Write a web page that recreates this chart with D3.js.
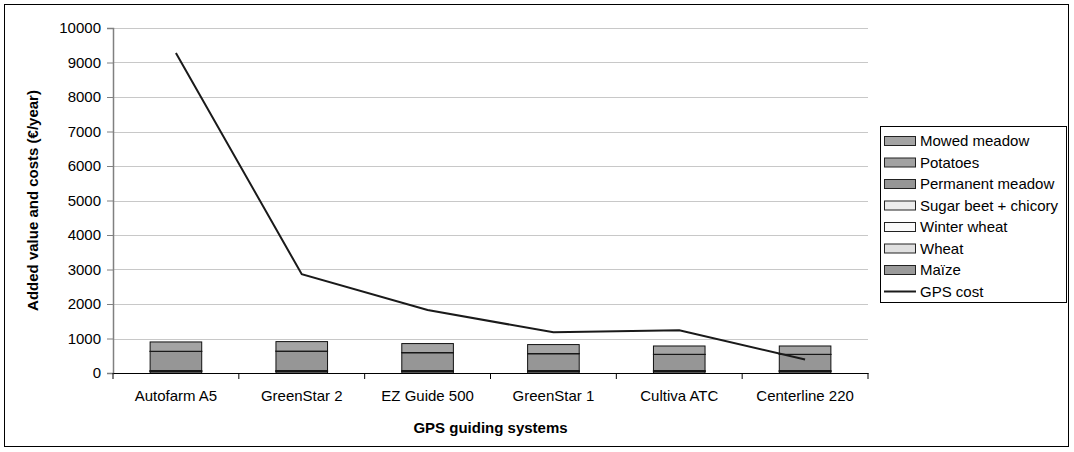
<!DOCTYPE html>
<html>
<head>
<meta charset="utf-8">
<script src="https://cdn.jsdelivr.net/npm/d3@7"></script>
<style>
  body { margin: 0; background: #fff; }
  text { font-family: "Liberation Sans", Arial, sans-serif; }
</style>
</head>
<body>
<svg id="chart" width="1074" height="452"></svg>
<script>
// categories and values
const systems = ["Autofarm A5", "GreenStar 2", "EZ Guide 500", "GreenStar 1", "Cultiva ATC", "Centerline 220"];
const maize = [45, 45, 45, 45, 45, 45];
const wheat = [8, 8, 8, 8, 8, 8];
const winterWheat = [5, 5, 5, 5, 5, 5];
const sugarBeet = [12, 12, 12, 12, 12, 12];
const permanentMeadow = [555, 560, 517, 488, 467, 467];
const potatoes = [5, 5, 5, 5, 5, 5];
const mowedMeadow = [270, 275, 261, 261, 241, 241];
const gpsCost = [9275, 2863, 1825, 1180, 1240, 390];
const yTicks = [0, 1000, 2000, 3000, 4000, 5000, 6000, 7000, 8000, 9000, 10000];

// stacking order bottom -> top
const series = [
  { name: "Maïze", values: maize, color: "#9a9a9a" },
  { name: "Wheat", values: wheat, color: "#e0e0e0" },
  { name: "Winter wheat", values: winterWheat, color: "#fafafa" },
  { name: "Sugar beet + chicory", values: sugarBeet, color: "#ececec" },
  { name: "Permanent meadow", values: permanentMeadow, color: "#969696" },
  { name: "Potatoes", values: potatoes, color: "#a2a2a2" },
  { name: "Mowed meadow", values: mowedMeadow, color: "#a4a4a4" }
];

const svg = d3.select("#chart");
const margin = { top: 28, right: 206, bottom: 79, left: 113 };
const width = 1074 - margin.left - margin.right;
const height = 452 - margin.top - margin.bottom;

// outer frame
svg.append("rect")
  .attr("x", 4.5).attr("y", 4.5)
  .attr("width", 1064).attr("height", 442)
  .attr("fill", "none").attr("stroke", "#000").attr("stroke-width", 1);

const g = svg.append("g").attr("transform", `translate(${margin.left},${margin.top})`);

const x = d3.scaleBand().domain(systems).range([0, width]).paddingInner(0.59).paddingOuter(0.295);
const xCenter = d3.scaleBand().domain(systems).range([0, width]);
const y = d3.scaleLinear().domain([0, 10000]).range([height, 0]);

// gridlines
g.selectAll(".grid").data(yTicks.slice(1)).join("line")
  .attr("x1", 0).attr("x2", width)
  .attr("y1", d => Math.round(y(d)) + 0.5).attr("y2", d => Math.round(y(d)) + 0.5)
  .attr("stroke", "#c8c8c8").attr("stroke-width", 1);

// stacked bars
const table = systems.map((s, i) => {
  const row = { system: s };
  series.forEach(se => { row[se.name] = se.values[i]; });
  return row;
});
const stack = d3.stack().keys(series.map(d => d.name))(table);
g.selectAll(".layer").data(stack).join("g")
  .attr("fill", (d, i) => series[i].color)
  .selectAll("rect").data(d => d).join("rect")
  .attr("x", d => x(d.data.system))
  .attr("y", d => y(d[1]))
  .attr("width", x.bandwidth())
  .attr("height", d => y(d[0]) - y(d[1]))
  .attr("stroke", "#111").attr("stroke-width", 1);

// y axis
const yAxis = g.append("g")
  .call(d3.axisLeft(y).tickValues(yTicks).tickFormat(d3.format("d")).tickSize(6).tickPadding(6));
yAxis.select(".domain").attr("stroke", "#808080").attr("stroke-width", 1.5);
yAxis.selectAll(".tick line").attr("stroke", "#808080");
yAxis.selectAll(".tick text").style("font-size", "15px").attr("fill", "#000");

// x axis
const xAxis = g.append("g").attr("transform", `translate(0,${height})`)
  .call(d3.axisBottom(xCenter).tickSize(0).tickPadding(17));
xAxis.select(".domain").attr("stroke", "#000").attr("stroke-width", 1);
xAxis.selectAll(".tick text").style("font-size", "15px").attr("fill", "#000");
g.selectAll(".xtick").data(systems.concat([null])).join("line")
  .attr("x1", (d, i) => i * xCenter.step()).attr("x2", (d, i) => i * xCenter.step())
  .attr("y1", height).attr("y2", height + 6)
  .attr("stroke", "#000");

// GPS cost line
g.append("path")
  .datum(gpsCost)
  .attr("fill", "none").attr("stroke", "#1a1a1a").attr("stroke-width", 2)
  .attr("d", d3.line().x((d, i) => xCenter(systems[i]) + xCenter.bandwidth() / 2).y(d => y(d)));

// axis titles
svg.append("text")
  .attr("transform", `translate(38,${margin.top + height / 2}) rotate(-90)`)
  .attr("text-anchor", "middle")
  .style("font-size", "15px").style("font-weight", "bold")
  .text("Added value and costs (€/year)");
svg.append("text")
  .attr("x", margin.left + width / 2).attr("y", 433)
  .attr("text-anchor", "middle")
  .style("font-size", "15px").style("font-weight", "bold")
  .text("GPS guiding systems");

// legend
const legend = svg.append("g").attr("transform", "translate(880,126)");
legend.append("rect")
  .attr("x", 0.5).attr("y", 0.5).attr("width", 186).attr("height", 176)
  .attr("fill", "#fff").attr("stroke", "#000");
const legendItems = series.slice().reverse().map(d => ({ name: d.name, color: d.color, line: false }))
  .concat([{ name: "GPS cost", line: true }]);
const item = legend.selectAll(".item").data(legendItems).join("g")
  .attr("transform", (d, i) => `translate(0,${15 + i * 21.5})`);
item.filter(d => !d.line).append("rect")
  .attr("x", 4.5).attr("y", -4.5).attr("width", 31).attr("height", 9)
  .attr("fill", d => d.color).attr("stroke", "#222");
item.filter(d => d.line).append("line")
  .attr("x1", 4).attr("x2", 36).attr("y1", 0).attr("y2", 0)
  .attr("stroke", "#1a1a1a").attr("stroke-width", 2);
item.append("text")
  .attr("x", 40).attr("y", 0).attr("dy", "0.35em")
  .style("font-size", "15px")
  .text(d => d.name);
</script>
</body>
</html>
